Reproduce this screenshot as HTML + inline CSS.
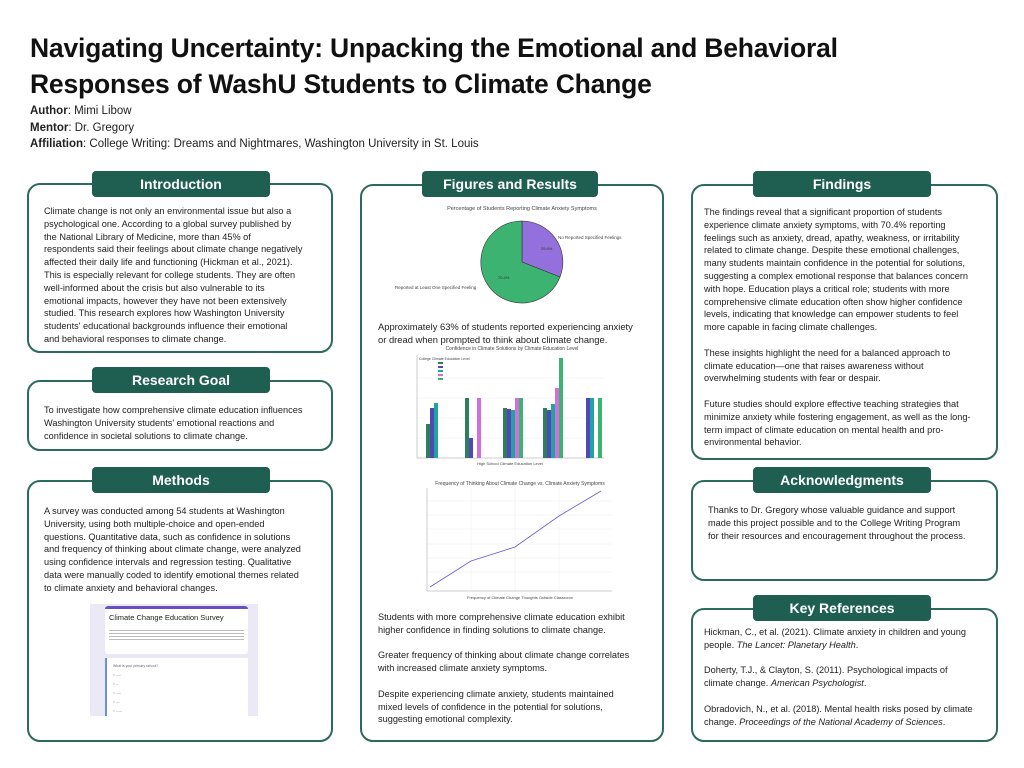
<!DOCTYPE html>
<html><head><meta charset="utf-8"><style>
*{margin:0;padding:0;box-sizing:border-box}
body{width:1024px;height:768px;background:#fff;position:relative;overflow:hidden;font-family:"Liberation Sans",sans-serif;color:#222}
.t{position:absolute;left:30px;font-weight:bold;font-size:26.5px;color:#111;letter-spacing:-0.2px}
.a{position:absolute;left:30px;font-size:11.5px;color:#222}
.box{position:absolute;border:2.5px solid #2b6a5c;border-radius:13px;background:#fff}
.pill{position:absolute;background:#1f5f52;color:#fff;font-weight:bold;font-size:14px;text-align:center;border-radius:4px;height:26px;line-height:26px}
.tx{position:absolute;font-size:9.2px;line-height:12.8px;white-space:nowrap;color:#222}
</style></head><body>
<div class="t" style="top:33px">Navigating Uncertainty: Unpacking the Emotional and Behavioral</div>
<div class="t" style="top:69px">Responses of WashU Students to Climate Change</div>
<div class="a" style="top:105px"><b>Author</b>: Mimi Libow</div>
<div class="a" style="top:122px"><b>Mentor</b>: Dr. Gregory</div>
<div class="a" style="top:138px"><b>Affiliation</b>: College Writing: Dreams and Nightmares, Washington University in St. Louis</div>

<!-- left -->
<div class="box" style="left:27px;top:183px;width:306px;height:170px"></div>
<div class="pill" style="left:92px;top:171px;width:178px">Introduction</div>
<div class="tx" style="left:44px;top:205px">Climate change is not only an environmental issue but also a<br>psychological one.  According to a global survey published by<br>the National Library of Medicine, more than 45% of<br>respondents said their feelings about climate change negatively<br>affected their daily life and functioning (Hickman et al., 2021).<br>This is especially relevant for college students. They are often<br>well-informed about the crisis but also vulnerable to its<br>emotional impacts, however they have not been extensively<br>studied. This research explores how Washington University<br>students' educational backgrounds influence their emotional<br>and behavioral responses to climate change.</div>

<div class="box" style="left:27px;top:380px;width:306px;height:71px"></div>
<div class="pill" style="left:92px;top:367px;width:178px">Research Goal</div>
<div class="tx" style="left:44px;top:404px">To investigate how comprehensive climate education influences<br>Washington University students' emotional reactions and<br>confidence in societal solutions to climate change.</div>

<div class="box" style="left:27px;top:480px;width:306px;height:262px"></div>
<div class="pill" style="left:92px;top:467px;width:178px">Methods</div>
<div class="tx" style="left:44px;top:505px">A survey was conducted among 54 students at Washington<br>University, using both multiple-choice and open-ended<br>questions. Quantitative data, such as confidence in solutions<br>and frequency of thinking about climate change, were analyzed<br>using confidence intervals and regression testing. Qualitative<br>data were manually coded to identify emotional themes related<br>to climate anxiety and behavioral changes.</div>
<div style="position:absolute;left:90px;top:604px;width:168px;height:112px;background:#ece9f6">
 <div style="position:absolute;left:15px;top:2px;width:143px;height:48px;background:#fff;border-top:3px solid #6a4fc4;border-radius:3px">
  <div style="font-size:7.5px;margin:4px 4px;color:#222">Climate Change Education Survey</div>
  <div style="margin:6px 4px;height:12px;background:repeating-linear-gradient(#fff 0 2px,#bbb 2px 3px)"></div>
 </div>
 <div style="position:absolute;left:15px;top:54px;width:143px;height:58px;background:#fff;border-left:2px solid #6a8fe0">
  <div style="margin:4px 6px;font-size:3.5px;color:#666;line-height:9px">What is your primary school?<br>○ ----<br>○ --<br>○ ----<br>○ ---<br>○ -----</div>
 </div>
</div>

<!-- middle -->
<div class="box" style="left:360px;top:184px;width:304px;height:558px"></div>
<div class="pill" style="left:422px;top:171px;width:176px">Figures and Results</div>
<svg style="position:absolute;left:362px;top:200px" width="300" height="400">
 <g transform="translate(-2,0)">
 <text x="162" y="10" font-size="5.5" text-anchor="middle" fill="#444">Percentage of Students Reporting Climate Anxiety Symptoms</text>
 <path d="M162 62 L162 21 A41 41 0 0 1 200 77 Z" fill="#9370db" stroke="#333" stroke-width=".6"/>
 <path d="M162 62 L200 77 A41 41 0 1 1 162 21 Z" fill="#3cb371" stroke="#333" stroke-width=".6"/>
 <text x="181" y="50" font-size="4" fill="#333">29.6%</text>
 <text x="138" y="79" font-size="4" fill="#333">70.4%</text>
 <text x="198" y="39" font-size="4.5" fill="#444">No Reported Specified Feelings</text>
 <text x="35" y="89" font-size="4.5" fill="#444">Reported at Least One Specified Feeling</text>
 <!-- bar chart -->
 <g transform="translate(0,-36)">
 <text x="152" y="186" font-size="5" text-anchor="middle" fill="#444">Confidence in Climate Solutions by Climate Education Level</text>
 <g stroke="#eee" stroke-width=".5"><line x1="57" y1="214" x2="244" y2="214"/><line x1="57" y1="234" x2="244" y2="234"/><line x1="57" y1="254" x2="244" y2="254"/><line x1="57" y1="274" x2="244" y2="274"/></g>
 <line x1="57" y1="191" x2="57" y2="294" stroke="#999" stroke-width=".5"/><line x1="57" y1="294" x2="244" y2="294" stroke="#999" stroke-width=".5"/>
 <g>
  <rect x="66" y="260" width="4" height="34" fill="#2e7d5b"/><rect x="70" y="244" width="4" height="50" fill="#5247b8"/><rect x="74" y="239" width="4" height="55" fill="#20a4a0"/>
  <rect x="105" y="234" width="4" height="60" fill="#2e7d5b"/><rect x="109" y="274" width="4" height="20" fill="#5247b8"/><rect x="117" y="234" width="4" height="60" fill="#d36fd8"/>
  <rect x="143" y="244" width="4" height="50" fill="#2e7d5b"/><rect x="147" y="245" width="4" height="49" fill="#5247b8"/><rect x="151" y="246" width="4" height="48" fill="#20a4a0"/><rect x="155" y="234" width="4" height="60" fill="#d36fd8"/><rect x="159" y="234" width="4" height="60" fill="#3cb371"/>
  <rect x="183" y="244" width="4" height="50" fill="#2e7d5b"/><rect x="187" y="246" width="4" height="48" fill="#5247b8"/><rect x="191" y="240" width="4" height="54" fill="#20a4a0"/><rect x="195" y="224" width="4" height="70" fill="#d36fd8"/><rect x="199" y="194" width="4" height="100" fill="#3cb371"/>
  <rect x="226" y="234" width="4" height="60" fill="#5247b8"/><rect x="230" y="234" width="4" height="60" fill="#20a4a0"/><rect x="238" y="234" width="4" height="60" fill="#3cb371"/>
 </g>
 <g font-size="3.5" fill="#444"><text x="59" y="196">College Climate Education Level</text></g>
 <rect x="78" y="198" width="5" height="2" fill="#2e7d5b"/><rect x="78" y="202" width="5" height="2" fill="#5247b8"/><rect x="78" y="206" width="5" height="2" fill="#20a4a0"/><rect x="78" y="210" width="5" height="2" fill="#d36fd8"/><rect x="78" y="214" width="5" height="2" fill="#3cb371"/>
 <text x="150" y="301" font-size="4" text-anchor="middle" fill="#444">High School Climate Education Level</text>
 </g>
 <!-- line chart -->
 <g transform="translate(0,-33)">
 <text x="160" y="318" font-size="5" text-anchor="middle" fill="#444">Frequency of Thinking About Climate Change vs. Climate Anxiety Symptoms</text>
 <g stroke="#eee" stroke-width=".5"><line x1="67" y1="334" x2="252" y2="334"/><line x1="67" y1="348" x2="252" y2="348"/><line x1="67" y1="362" x2="252" y2="362"/><line x1="67" y1="377" x2="252" y2="377"/><line x1="67" y1="391" x2="252" y2="391"/><line x1="67" y1="405" x2="252" y2="405"/><line x1="111" y1="321" x2="111" y2="424"/><line x1="155" y1="321" x2="155" y2="424"/><line x1="199" y1="321" x2="199" y2="424"/></g>
 <line x1="67" y1="321" x2="67" y2="424" stroke="#999" stroke-width=".5"/><line x1="67" y1="424" x2="252" y2="424" stroke="#999" stroke-width=".5"/>
 <polyline points="70,420 111,394 155,380 199,349 241,324" fill="none" stroke="#6a5acd" stroke-width=".8"/>
 <text x="160" y="432" font-size="4" text-anchor="middle" fill="#444">Frequency of Climate Change Thoughts Outside Classroom</text>
 </g>
 </g>
</svg>
<div class="tx" style="left:378px;top:321px;font-size:9.4px">Approximately 63% of students reported experiencing anxiety<br>or dread when prompted to think about climate change.</div>
<div class="tx" style="left:378px;top:611px">Students with more comprehensive climate education exhibit<br>higher confidence in finding solutions to climate change.<br><br>Greater frequency of thinking about climate change correlates<br>with increased climate anxiety symptoms.<br><br>Despite experiencing climate anxiety, students maintained<br>mixed levels of  confidence in the potential for solutions,<br>suggesting emotional complexity.</div>

<!-- right -->
<div class="box" style="left:691px;top:184px;width:307px;height:276px"></div>
<div class="pill" style="left:753px;top:171px;width:178px">Findings</div>
<div class="tx" style="left:704px;top:206px">The findings reveal that a significant proportion of students<br>experience climate anxiety symptoms, with 70.4% reporting<br>feelings such as anxiety, dread, apathy, weakness, or irritability<br>related to climate change. Despite these emotional challenges,<br>many students maintain confidence in the potential for solutions,<br>suggesting a complex emotional response that balances concern<br>with hope. Education plays a critical role; students with more<br>comprehensive climate education often show higher confidence<br>levels, indicating that knowledge can empower students to feel<br>more capable in facing climate challenges.<br><br>These insights highlight the need for a balanced approach to<br>climate education—one that raises awareness without<br>overwhelming students with fear or despair.<br><br>Future studies should explore effective teaching strategies that<br>minimize anxiety while fostering engagement, as well as the long-<br>term impact of climate education on mental health and pro-<br>environmental behavior.</div>

<div class="box" style="left:691px;top:480px;width:307px;height:101px"></div>
<div class="pill" style="left:753px;top:467px;width:178px">Acknowledgments</div>
<div class="tx" style="left:708px;top:504px">Thanks to Dr. Gregory whose valuable guidance and support<br>made this project possible and to the College Writing Program<br>for their resources and encouragement throughout the process.</div>

<div class="box" style="left:691px;top:608px;width:307px;height:134px"></div>
<div class="pill" style="left:753px;top:595px;width:178px">Key References</div>
<div class="tx" style="left:704px;top:626px">Hickman, C., et al. (2021). Climate anxiety in children and young<br>people. <i>The Lancet: Planetary Health</i>.<br><br>Doherty, T.J., &amp; Clayton, S. (2011). Psychological impacts of<br>climate change. <i>American Psychologist</i>.<br><br>Obradovich, N., et al. (2018). Mental health risks posed by climate<br>change. <i>Proceedings of the National Academy of Sciences</i>.</div>
</body></html>
